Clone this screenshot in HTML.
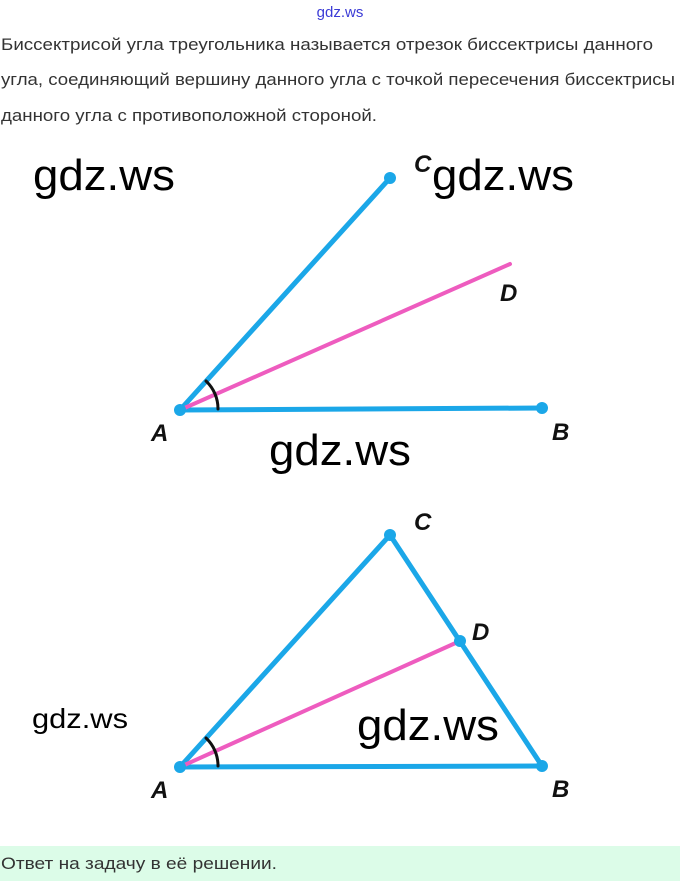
<!DOCTYPE html>
<html><head><meta charset="utf-8"><style>
html,body{margin:0;padding:0;background:#fff;width:680px;height:881px;overflow:hidden}
svg{display:block}
</style></head><body>
<svg width="680" height="881" viewBox="0 0 680 881" xmlns="http://www.w3.org/2000/svg">
<text x="340" y="17" text-anchor="middle" font-family="Liberation Sans, sans-serif" font-size="15" fill="#3b3bd6">gdz.ws</text>
<g font-family="Liberation Sans, sans-serif" font-size="16.5" fill="#333">
<text x="1" y="50" textLength="652" lengthAdjust="spacingAndGlyphs">Биссектрисой угла треугольника называется отрезок биссектрисы данного</text>
<text x="1" y="85" textLength="674" lengthAdjust="spacingAndGlyphs">угла, соединяющий вершину данного угла с точкой пересечения биссектрисы</text>
<text x="1" y="121" textLength="376" lengthAdjust="spacingAndGlyphs">данного угла с противоположной стороной.</text>
</g>
<rect x="0" y="846" width="680" height="35" fill="#dcfce8"/>
<text x="1" y="869" font-family="Liberation Sans, sans-serif" font-size="16.5" fill="#333" textLength="276" lengthAdjust="spacingAndGlyphs">Ответ на задачу в её решении.</text>

<!-- diagram 1 -->
<g stroke-linecap="round">
<line x1="180" y1="410" x2="390" y2="178" stroke="#1ba7e8" stroke-width="5"/>
<line x1="180" y1="410" x2="542" y2="408" stroke="#1ba7e8" stroke-width="5"/>
<line x1="180" y1="410" x2="510" y2="264" stroke="#ee5cbf" stroke-width="4"/>
<path d="M206,381 A38,38 0 0 1 218,409" fill="none" stroke="#111" stroke-width="3"/>
</g>
<circle cx="180" cy="410" r="6" fill="#1ba7e8"/>
<circle cx="390" cy="178" r="6" fill="#1ba7e8"/>
<circle cx="542" cy="408" r="6" fill="#1ba7e8"/>
<!-- diagram 2 -->
<g stroke-linecap="round">
<line x1="180" y1="767" x2="390" y2="535" stroke="#1ba7e8" stroke-width="5"/>
<line x1="180" y1="767" x2="542" y2="766" stroke="#1ba7e8" stroke-width="5"/>
<line x1="390" y1="535" x2="542" y2="766" stroke="#1ba7e8" stroke-width="5"/>
<line x1="180" y1="767" x2="460" y2="641" stroke="#ee5cbf" stroke-width="4"/>
<path d="M206,738 A38,38 0 0 1 218,766" fill="none" stroke="#111" stroke-width="3"/>
</g>
<circle cx="180" cy="767" r="6" fill="#1ba7e8"/>
<circle cx="390" cy="535" r="6" fill="#1ba7e8"/>
<circle cx="460" cy="641" r="6" fill="#1ba7e8"/>
<circle cx="542" cy="766" r="6" fill="#1ba7e8"/>

<g font-family="Liberation Sans, sans-serif" font-size="24" font-style="italic" font-weight="bold" fill="#111">
<text x="414" y="172">C</text>
<text x="500" y="301">D</text>
<text x="151" y="441">A</text>
<text x="552" y="440">B</text>
<text x="414" y="530">C</text>
<text x="472" y="640">D</text>
<text x="151" y="798">A</text>
<text x="552" y="797">B</text>
</g>
<g font-family="Liberation Sans, sans-serif" fill="#000">
<text x="33" y="190" font-size="44" textLength="142" lengthAdjust="spacingAndGlyphs">gdz.ws</text>
<text x="432" y="190" font-size="44" textLength="142" lengthAdjust="spacingAndGlyphs">gdz.ws</text>
<text x="269" y="465" font-size="44" textLength="142" lengthAdjust="spacingAndGlyphs">gdz.ws</text>
<text x="32" y="728" font-size="28" textLength="96" lengthAdjust="spacingAndGlyphs">gdz.ws</text>
<text x="357" y="740" font-size="44" textLength="142" lengthAdjust="spacingAndGlyphs">gdz.ws</text>
</g>
</svg>
</body></html>
